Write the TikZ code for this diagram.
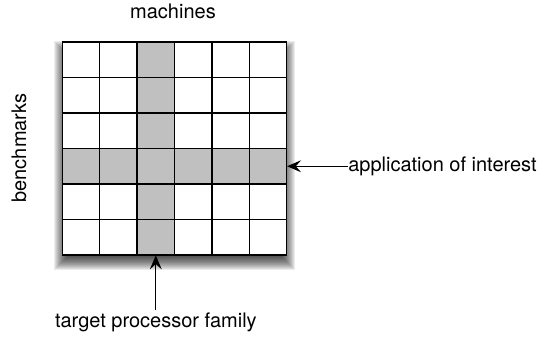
\documentclass[tikz,border=0pt]{standalone}
\usepackage{fontspec}
\setmainfont{TeX Gyre Heros}
\usetikzlibrary{arrows.meta}
\definecolor{cellgray}{RGB}{192,192,192}

\begin{document}
\begin{tikzpicture}[x=0.75pt,y=0.75pt,yscale=-1,xscale=1,
  cell/.style={draw, line width=1.1pt, fill=white, inner sep=0pt, outer sep=0pt,
    minimum width=28.05pt, minimum height=26.63pt},
  hot/.style={cell, fill=cellgray},
  lbl/.style={font=\fontsize{15}{18}\selectfont, inner sep=2pt},
  arr/.style={-{Stealth[length=10.5pt,width=9pt,inset=4pt]}, line width=0.8pt, shorten >=0.3pt}]
\useasboundingbox (0,0) rectangle (545,337);

%Shadow
\foreach \k in {-6,...,8}
  \fill [black, opacity=0.075] (62.3-\k,49-\k) rectangle (286.7+\k,262+\k);

%Grid of cells
\foreach \r in {0,...,5}
  \foreach \c in {0,...,5} {
    \ifnum\r=3 \def\kind{hot}\else\ifnum\c=2 \def\kind{hot}\else\def\kind{cell}\fi\fi
    \node [\kind] (c-\r-\c) at (62.3+\c*37.4+18.7, 42+\r*35.5+17.75) {};
  }

% Text Node
\node [lbl] (machines) at (173,11) {machines};
% Text Node
\node [lbl, rotate=90] (bench) at (19,148) {benchmarks};
% Text Node
\node [lbl, anchor=west, inner xsep=0pt] (app) at (348,166.25) {application of interest};
% Text Node
\node [lbl] (target) at (155.8,322) {target processor family};

%Arrows
\draw [arr] (app.west) -- (c-3-5.east);
\draw [arr] (target.north) -- (c-5-2.south);

\end{tikzpicture}
\end{document}
